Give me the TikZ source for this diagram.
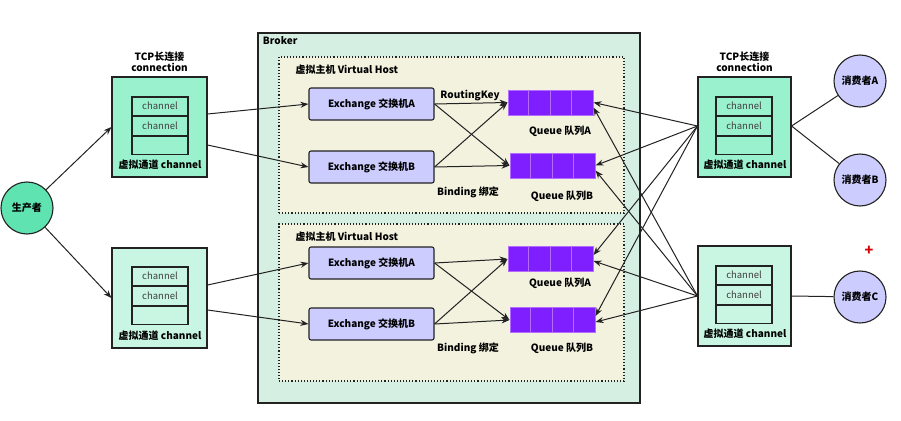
\documentclass[tikz,border=0pt]{standalone}
\usepackage{fontspec}
\setmainfont{Noto Sans CJK SC}
\usepackage{xcolor}
\usepackage{tikz}
\usetikzlibrary{shapes,arrows.meta,positioning,calc}

\definecolor{prodgreen}{HTML}{5FE3B1}
\definecolor{conngreen}{HTML}{9AF1CD}
\definecolor{connlight}{HTML}{C8F6E2}
\definecolor{brokerbg}{HTML}{D5EFE3}
\definecolor{vhostbg}{HTML}{F2F2DF}
\definecolor{exbg}{HTML}{CCCCFF}
\definecolor{qfill}{HTML}{7F1FFF}
\definecolor{qedge}{HTML}{B46BFF}
\definecolor{darkline}{HTML}{222222}

\begin{document}
\begin{tikzpicture}[
    x=1pt, y=-1pt,
    every node/.style={font=\fontsize{9.5}{11}\selectfont},
    bold/.style={font=\fontsize{10}{11.5}\selectfont\bfseries},
    conn/.style={rectangle, draw=darkline, line width=1.1pt, minimum width=95pt, minimum height=100pt},
    chan/.style={rectangle, draw=darkline, line width=1.1pt, minimum width=56pt, minimum height=18.5pt, inner sep=0pt, text=black!75},
    broker/.style={rectangle, draw=darkline, line width=1.1pt, fill=brokerbg, minimum width=382pt, minimum height=370pt},
    vhost/.style={rectangle, draw=darkline, dotted, line width=1.1pt, fill=vhostbg, minimum width=345pt, minimum height=156pt},
    exchange/.style={rectangle, draw=darkline, line width=1.1pt, fill=exbg, rounded corners=2pt, minimum width=125pt, minimum height=32pt, bold},
    queue/.style={rectangle, draw=qedge, line width=1pt, fill=qfill, minimum width=85pt, minimum height=25pt},
    person/.style={circle, draw=darkline, line width=1.1pt, fill=exbg, minimum size=52pt, inner sep=0pt, bold},
    link/.style={draw=darkline, line width=1pt, -{Stealth[length=8pt,width=6pt]}},
    plain/.style={draw=darkline, line width=1pt}
]
\useasboundingbox (0,0) rectangle (901,420);

% broker and virtual hosts
\node[broker] (broker) at (449,218) {};
\node[bold, anchor=north west] (brokerlbl) at ($(broker.north west)+(2,1)$) {Broker};
\node[vhost] (vht) at (451.5,135) {};
\node[vhost, minimum height=157pt] (vhb) at (451.5,302.5) {};
\node[bold, anchor=west] (vhtlbl) at (292,70) {虚拟主机 Virtual Host};
\node[bold, anchor=west] (vhblbl) at (292,237) {虚拟主机 Virtual Host};

% exchanges
\node[exchange] (tea) at (371.5,104) {Exchange 交换机A};
\node[exchange] (teb) at (371.5,167) {Exchange 交换机B};
\node[exchange] (bea) at (371.5,263) {Exchange 交换机A};
\node[exchange] (beb) at (371.5,324) {Exchange 交换机B};

% queues
\node[queue] (tqa) at (550.5,102.5) {};
\node[queue] (tqb) at (552.5,165.5) {};
\node[queue] (bqa) at (550.5,259) {};
\node[queue] (bqb) at (552.5,320) {};
\foreach \q in {tqa,tqb,bqa,bqb} {
    \foreach \i in {1,2,3}
        \draw[qedge, line width=1pt] ($(\q.north west)+(\i*21.25,0)$) -- ($(\q.south west)+(\i*21.25,0)$);
}

\node[bold] (rkey) at (470,96) {RoutingKey};
\node[bold] (tqalbl) at (560,131) {Queue 队列A};
\node[bold] (tbind) at (468,192) {Binding 绑定};
\node[bold] (tqblbl) at (562,196) {Queue 队列B};
\node[bold] (bqalbl) at (560,283) {Queue 队列A};
\node[bold] (bbind) at (468,348) {Binding 绑定};
\node[bold] (bqblbl) at (562,348) {Queue 队列B};

% producer side connections
\node[circle, draw=darkline, line width=1.1pt, fill=prodgreen, minimum size=52pt, inner sep=0pt, bold] (prod) at (27,208) {生产者};

\node[conn, fill=conngreen] (tl) at (159.5,127) {};
\node[bold, align=center, above=1pt of tl] (tllbl) {TCP长连接\\connection};
\node[chan] (tl1) at (160,106.25) {channel};
\node[chan, below=0pt of tl1] (tl2) {channel};
\node[chan, below=0pt of tl2] (tl3) {};
\node[bold] (tlname) at (160,165) {虚拟通道 channel};

\node[conn, fill=connlight] (bl) at (159.5,298) {};
\node[chan] (bl1) at (160,276.25) {channel};
\node[chan, below=0pt of bl1] (bl2) {channel};
\node[chan, below=0pt of bl2] (bl3) {};
\node[bold] (blname) at (160,336) {虚拟通道 channel};

% consumer side connections
\node[conn, fill=conngreen, minimum width=93pt] (rt) at (744.5,127) {};
\node[bold, align=center, above=1pt of rt] (rtlbl) {TCP长连接\\connection};
\node[chan] (rt1) at (744,106.25) {channel};
\node[chan, below=0pt of rt1] (rt2) {channel};
\node[chan, below=0pt of rt2] (rt3) {};
\node[bold] (rtname) at (745,165) {虚拟通道 channel};

\node[conn, fill=connlight, minimum width=93pt] (rb) at (744.5,296) {};
\node[chan] (rb1) at (744,275.25) {channel};
\node[chan, below=0pt of rb1] (rb2) {channel};
\node[chan, below=0pt of rb2] (rb3) {};
\node[bold] (rbname) at (745,334) {虚拟通道 channel};

\node[person] (ca) at (860,81) {消费者A};
\node[person] (cb) at (860,180) {消费者B};
\node[person] (cc) at (860,297) {消费者C};
\node[text=red!85!black, font=\bfseries\Large] (plus) at (869,251) {+};

% producer to exchanges
\draw[link] (prod) -- (tl.west);
\draw[link] (prod) -- (bl.west);
\draw[link] ([yshift=13pt]tl.east) -- (tea.west);
\draw[link] ([yshift=-18pt]tl.east) -- (teb.west);
\draw[link] ([yshift=13pt]bl.east) -- (bea.west);
\draw[link] ([yshift=-12pt]bl.east) -- (beb.west);

% bindings
\draw[link] (tea.east) -- (tqa.west);
\draw[link] (tea.east) -- (tqb.west);
\draw[link] (teb.east) -- (tqa.west);
\draw[link] (teb.east) -- (tqb.west);
\draw[link] (bea.east) -- (bqa.west);
\draw[link] (bea.east) -- (bqb.west);
\draw[link] (beb.east) -- (bqa.west);
\draw[link] (beb.east) -- (bqb.west);

% consumers pulling from queues
\draw[link] ([yshift=1pt]rt.west) -- (tqa.east);
\draw[link] ([yshift=1pt]rt.west) -- (tqb.east);
\draw[link] ([yshift=1pt]rt.west) -- ([yshift=4pt]bqa.east);
\draw[link] ([yshift=1pt]rt.west) -- ([yshift=4pt]bqb.east);
\draw[link] (rb.west) -- ([yshift=-5pt]tqa.east);
\draw[link] (rb.west) -- ([yshift=-5pt]tqb.east);
\draw[link] (rb.west) -- ([yshift=-2pt]bqa.east);
\draw[link] (rb.west) -- ([yshift=-2pt]bqb.east);

\draw[plain] ([yshift=1pt]rt.east) -- (ca);
\draw[plain] ([yshift=1pt]rt.east) -- (cb);
\draw[plain] (rb.east) -- (cc);

\end{tikzpicture}
\end{document}
